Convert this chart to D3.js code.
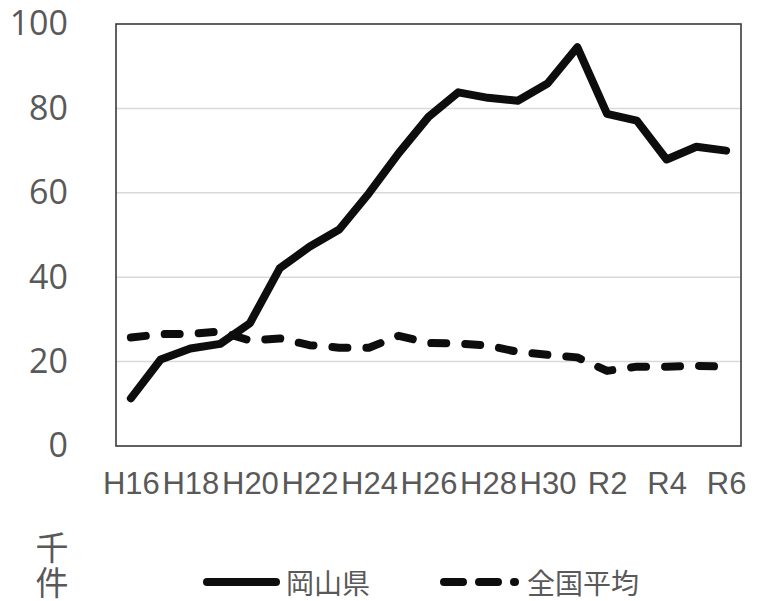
<!DOCTYPE html>
<html><head><meta charset="utf-8">
<script src="https://cdn.jsdelivr.net/npm/d3@7"></script>
<style>html,body{margin:0;padding:0;background:#fff;}</style>
</head><body>
<svg id="chart" width="763" height="601"></svg>
<script>
const categories = ["H16","H17","H18","H19","H20","H21","H22","H23","H24","H25","H26","H27","H28","H29","H30","R1","R2","R3","R4","R5","R6"];
const tickLabels = ["H16","H18","H20","H22","H24","H26","H28","H30","R2","R4","R6"];
const okayama = [11.3,20.5,23.1,24.2,29.1,42.1,47.2,51.3,59.9,69.4,78.0,83.8,82.5,81.8,85.9,94.5,78.7,77.1,67.9,70.9,70.0];
const national = [25.7,26.5,26.6,27.1,25.0,25.5,23.9,23.3,23.3,26.1,24.4,24.3,23.8,22.3,21.6,21.0,17.8,18.8,18.8,19.0,18.8];
const yTicks = [0,20,40,60,80,100];
const seriesNames = ["岡山県","全国平均"];
const unitLabel = ["千","件"];

const svg = d3.select("#chart");
const L = 116, R = 741, T = 24, B = 446;
const x = d3.scalePoint().domain(categories).range([L, R]).padding(0.5);
const y = d3.scaleLinear().domain([0,100]).range([B, T]);
const textColor = "#595959";

// gridlines
svg.append("g").selectAll("line").data(yTicks.filter(v => v > 0 && v < 100)).join("line")
  .attr("x1", L).attr("x2", R).attr("y1", d => y(d)).attr("y2", d => y(d))
  .attr("stroke", "#d9d9d9").attr("stroke-width", 1.5);

// plot border
svg.append("rect").attr("x", L).attr("y", T).attr("width", R - L).attr("height", B - T)
  .attr("fill", "none").attr("stroke", "#3a3a3a").attr("stroke-width", 1.6);

// y axis labels
const yAxis = d3.axisLeft(y).tickValues(yTicks).tickSize(0).tickPadding(48);
const gy = svg.append("g").attr("transform", `translate(${L},0)`).call(yAxis);
gy.select(".domain").remove();
gy.selectAll("text").attr("fill", textColor).style("font-family", "'Open Sans', 'Noto Sans', sans-serif").style("font-size", "34px");

// x axis labels
const xAxis = d3.axisBottom(x).tickValues(tickLabels).tickSize(0).tickPadding(0);
const gx = svg.append("g").attr("transform", `translate(0,${B})`).call(xAxis);
gx.select(".domain").remove();
gx.selectAll("text").attr("fill", textColor).attr("dy", null).attr("y", 48)
  .style("font-family", "'Liberation Sans', Arial, sans-serif").style("font-size", "31px");

// lines
const line = d3.line().x((d, i) => x(categories[i])).y(d => y(d));
svg.append("path").datum(okayama).attr("d", line).attr("fill", "none")
  .attr("stroke", "#0d0d0d").attr("stroke-width", 8).attr("stroke-linejoin", "round").attr("stroke-linecap", "round");
svg.append("path").datum(national).attr("d", line).attr("fill", "none")
  .attr("stroke", "#0d0d0d").attr("stroke-width", 8).attr("stroke-linejoin", "round").attr("stroke-linecap", "round")
  .attr("stroke-dasharray", "15,19");

// unit label
svg.append("g").selectAll("text").data(unitLabel).join("text")
  .attr("x", 52).attr("y", (d, i) => 546 + i * 35)
  .attr("text-anchor", "middle").attr("dominant-baseline", "central")
  .attr("fill", textColor).style("font-family", "'Noto Sans CJK JP', sans-serif").style("font-size", "33px")
  .text(d => d);

// legend
const lg = svg.append("g");
lg.append("line").attr("x1", 207).attr("x2", 276).attr("y1", 582).attr("y2", 582)
  .attr("stroke", "#0d0d0d").attr("stroke-width", 8).attr("stroke-linecap", "round");
lg.append("text").attr("x", 286).attr("y", 582).attr("dominant-baseline", "central")
  .attr("fill", textColor).style("font-family", "'Noto Sans CJK JP', sans-serif").style("font-size", "28px")
  .text(seriesNames[0]);
lg.append("line").attr("x1", 444).attr("x2", 515).attr("y1", 582).attr("y2", 582)
  .attr("stroke", "#0d0d0d").attr("stroke-width", 8).attr("stroke-linecap", "round").attr("stroke-dasharray", "19,16");
lg.append("text").attr("x", 527).attr("y", 582).attr("dominant-baseline", "central")
  .attr("fill", textColor).style("font-family", "'Noto Sans CJK JP', sans-serif").style("font-size", "28px")
  .text(seriesNames[1]);
</script>
</body></html>
